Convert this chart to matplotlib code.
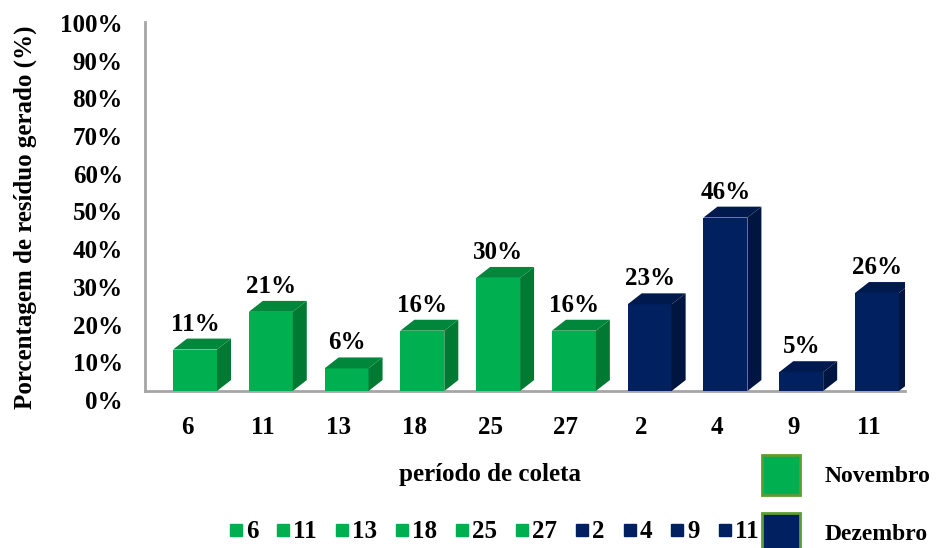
import matplotlib
matplotlib.use("Agg")
import matplotlib.pyplot as plt
from matplotlib.patches import Polygon, Patch
from matplotlib.lines import Line2D
import matplotlib.transforms as mtransforms

plt.rcParams['font.family'] = ['Liberation Serif', 'DejaVu Serif']
plt.rcParams['font.weight'] = 'bold'

# ---- data ----
days = ['6', '11', '13', '18', '25', '27', '2', '4', '9', '11']
months = ['Novembro'] * 6 + ['Dezembro'] * 4
values = [0.11, 0.21, 0.06, 0.16, 0.30, 0.16, 0.23, 0.46, 0.05, 0.26]
labels = ['11%', '21%', '6%', '16%', '30%', '16%', '23%', '46%', '5%', '26%']
yticks = [0.0, 0.1, 0.2, 0.3, 0.4, 0.5, 0.6, 0.7, 0.8, 0.9, 1.0]
ytick_labels = ['0%', '10%', '20%', '30%', '40%', '50%', '60%', '70%', '80%', '90%', '100%']

front = {'Novembro': '#00B050', 'Dezembro': '#002060'}
top = {'Novembro': '#00873C', 'Dezembro': '#001A4E'}
side = {'Novembro': '#007A32', 'Dezembro': '#001540'}

FS = 18
W, H = 939, 548
fig = plt.figure(figsize=(W / 100, H / 100), dpi=100)
ax = fig.add_axes([145 / W, (H - 391) / H, 760 / W, 377 / H])

x = list(range(len(values)))
bw = 0.58
dx = 0.185   # depth offset in x (data units)
dy = 0.029   # depth offset in y (data units)

for xi, v, m, lab in zip(x, values, months, labels):
    ax.bar(xi, v, width=bw, color=front[m], zorder=3)
    l, r = xi - bw / 2, xi + bw / 2
    ax.add_patch(Polygon([(l, v), (r, v), (r + dx, v + dy), (l + dx, v + dy)],
                         closed=True, facecolor=top[m], edgecolor='none', zorder=3))
    ax.add_patch(Polygon([(r, 0), (r + dx, dy), (r + dx, v + dy), (r, v)],
                         closed=True, facecolor=side[m], edgecolor='none', zorder=3))
    ax.text(xi, v + dy + 0.008, lab, ha='center', va='bottom', fontsize=FS,
            fontweight='bold', zorder=4)

ax.set_xlim(-0.66, 9.37)
ax.set_ylim(0, 1.0)
ax.set_yticks(yticks)
ax.set_yticklabels(ytick_labels, fontsize=FS, fontweight='bold')
ax.set_xticks(x)
ax.set_xticklabels(days, fontsize=FS, fontweight='bold')
ax.tick_params(axis='both', length=0)
ax.tick_params(axis='y', pad=16)
ax.tick_params(axis='x', pad=18)

off_y = mtransforms.ScaledTranslation(0, -9 / 100, fig.dpi_scale_trans)
for t in ax.get_yticklabels():
    t.set_transform(t.get_transform() + off_y)
off_x = mtransforms.ScaledTranslation(-8 / 100, 0, fig.dpi_scale_trans)
for t in ax.get_xticklabels():
    t.set_transform(t.get_transform() + off_x)

for s in ['top', 'right']:
    ax.spines[s].set_visible(False)
for s in ['left', 'bottom']:
    ax.spines[s].set_color('#A6A6A6')
    ax.spines[s].set_linewidth(2)
ax.spines['left'].set_bounds(0, 0.979)

ax.set_ylabel('Porcentagem de resíduo gerado (%)', fontsize=FS, fontweight='bold')
ax.yaxis.set_label_coords(-0.142, 0.4615)

fig.text(490 / W, 1 - 474 / H, 'período de coleta', ha='center', va='center',
         fontsize=FS, fontweight='bold')

# bottom legend (one entry per bar)
handles = [Line2D([], [], marker='s', linestyle='none', markersize=9,
                  markerfacecolor=front[m], markeredgecolor=front[m]) for m in months]
fig.legend(handles, days, loc='center', bbox_to_anchor=(494 / W, 1 - 532 / H),
           ncol=10, frameon=False, handlelength=0.5, handletextpad=0.15,
           columnspacing=0.75, prop={'weight': 'bold', 'size': FS})

# month legend
mfs = 17
mhandles = [Patch(facecolor=front[m], edgecolor='#5E9C30', linewidth=2)
            for m in ['Novembro', 'Dezembro']]
fig.legend(mhandles, ['Novembro', 'Dezembro'], loc='upper left',
           bbox_to_anchor=(762 / W, 1 - 455 / H), frameon=False,
           borderpad=0, borderaxespad=0,
           handlelength=1.6, handleheight=2.23, labelspacing=0.76, handletextpad=1.05,
           prop={'weight': 'bold', 'size': mfs})

fig.savefig('out.png', dpi=100)
